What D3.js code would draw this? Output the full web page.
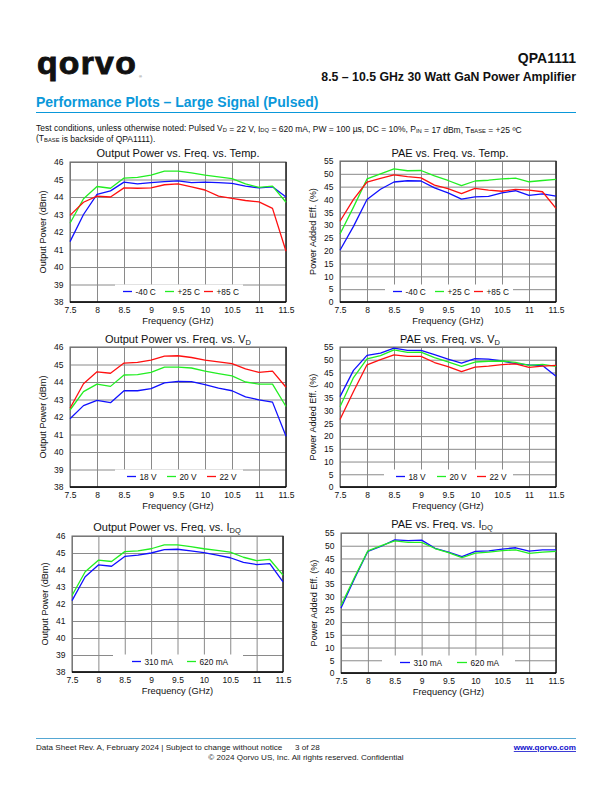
<!DOCTYPE html>
<html><head><meta charset="utf-8">
<script src="https://cdn.jsdelivr.net/npm/d3@7/dist/d3.min.js"></script>
<style>
body{margin:0;background:#fff}
svg{display:block;font-family:"Liberation Sans",Arial,sans-serif}
</style>
</head><body>
<svg id="c" width="612" height="792"></svg>
<script>
// ---------- data ----------
const freqs = [7.5,7.75,8,8.25,8.5,8.75,9,9.25,9.5,9.75,10,10.25,10.5,10.75,11,11.25,11.5];
const xTicks = [7.5,8,8.5,9,9.5,10,10.5,11,11.5];
const poutTicks = [38,39,40,41,42,43,44,45,46];
const paeTicks = [0,5,10,15,20,25,30,35,40,45,50,55];

const poutTempM40 = [41.45,43.0,44.15,44.35,44.85,44.75,44.82,44.88,44.92,44.82,44.85,44.82,44.78,44.62,44.52,44.58,44.0];
const poutTemp25  = [42.5,43.9,44.6,44.5,45.08,45.12,45.25,45.48,45.48,45.38,45.25,45.15,45.05,44.75,44.55,44.62,43.7];
const poutTemp85  = [42.95,43.7,44.05,44.0,44.52,44.5,44.52,44.7,44.75,44.58,44.4,44.05,43.92,43.8,43.72,43.35,40.9];

const paeTempM40 = [20.2,29.5,40.0,44.0,46.8,47.3,47.2,44.5,42.6,40.1,41.0,41.2,42.6,43.4,41.6,42.2,41.3];
const paeTemp25  = [26.5,37.0,48.0,50.0,51.9,51.2,51.3,49.2,47.4,45.4,47.2,47.5,48.0,48.3,46.9,47.4,47.8];
const paeTemp85  = [31.5,40.0,46.8,48.2,49.6,48.9,48.4,45.6,44.2,42.3,44.3,43.6,43.2,43.9,43.6,43.0,36.5];

const poutVd18 = [41.9,42.65,42.95,42.82,43.5,43.5,43.62,43.95,44.03,44.02,43.85,43.65,43.5,43.15,42.98,42.85,40.9];
const poutVd20 = [42.4,43.45,43.88,43.75,44.4,44.42,44.55,44.85,44.85,44.8,44.62,44.48,44.35,44.0,43.88,43.88,42.6];
const poutVd22 = [42.5,43.9,44.58,44.5,45.08,45.12,45.25,45.48,45.5,45.4,45.25,45.15,45.05,44.75,44.55,44.62,43.7];

const paeVd18 = [35.5,45.8,51.7,52.6,54.6,53.7,53.7,52.0,50.2,48.7,50.4,50.2,49.5,48.5,48.0,47.7,43.5];
const paeVd20 = [31.5,43.0,50.3,51.6,53.9,52.9,53.0,50.8,49.2,47.4,49.1,49.4,49.5,49.0,47.8,48.2,47.4];
const paeVd22 = [26.5,37.5,48.0,50.0,51.9,51.3,51.3,48.9,47.3,45.3,47.1,47.5,48.1,48.4,47.0,47.5,47.8];

const poutIdq310 = [42.2,43.6,44.3,44.22,44.8,44.88,45.0,45.2,45.22,45.12,45.02,44.88,44.72,44.45,44.32,44.38,43.3];
const poutIdq620 = [42.5,43.9,44.58,44.5,45.08,45.12,45.25,45.48,45.48,45.38,45.25,45.15,45.05,44.75,44.55,44.62,43.7];

const paeIdq310 = [25.5,37.0,47.8,49.8,52.3,52.0,52.2,49.0,47.5,45.7,47.8,48.0,48.7,49.2,47.9,48.4,48.4];
const paeIdq620 = [26.5,37.5,48.0,50.0,51.9,51.3,51.3,48.9,47.3,45.3,47.1,47.5,48.1,48.4,47.0,47.5,47.8];

const tempLabels = ["-40 C","+25 C","+85 C"];
const vdLabels = ["18 V","20 V","22 V"];
const idqLabels = ["310 mA","620 mA"];

// ---------- styling ----------
const BLUE = "#1010ff", GREEN = "#22ee22", RED = "#ff1010";
const svg = d3.select("#c");

function rich(sel, parts, subSize, subDy){
  parts.forEach(p=>{
    if (typeof p === "string") sel.append("tspan").text(p);
    else sel.append("tspan").attr("font-size", subSize).attr("dy", subDy).text(p.sub)
           .call(()=>{ sel.append("tspan").attr("dy", -subDy).text(""); });
  });
}

// ---------- header ----------
svg.append("text").attr("x",37).attr("y",74).attr("font-size",31).attr("font-weight","bold")
  .attr("letter-spacing",1.2).attr("fill","#111").attr("stroke","#111").attr("stroke-width",0.9)
  .attr("textLength",100).attr("lengthAdjust","spacingAndGlyphs").text("qorvo");
svg.append("text").attr("x",139).attr("y",78).attr("font-size",4).attr("fill","#555").text("®");
svg.append("text").attr("x",576).attr("y",63).attr("text-anchor","end").attr("font-size",14)
  .attr("font-weight","bold").attr("fill","#111").text("QPA1111");
svg.append("text").attr("x",576).attr("y",81).attr("text-anchor","end").attr("font-size",12.3)
  .attr("font-weight","bold").attr("fill","#111").text("8.5 – 10.5 GHz 30 Watt GaN Power Amplifier");
svg.append("text").attr("x",36).attr("y",107).attr("font-size",14).attr("font-weight","bold")
  .attr("fill","#0a98da").text("Performance Plots – Large Signal (Pulsed)");
svg.append("line").attr("x1",36).attr("x2",576).attr("y1",112.5).attr("y2",112.5)
  .attr("stroke","#0a98da").attr("stroke-width",1.2);

const tc1 = svg.append("text").attr("x",36).attr("y",131).attr("font-size",8.5).attr("fill","#111");
rich(tc1, ["Test conditions, unless otherwise noted: Pulsed V",{sub:"D"}," = 22 V, I",{sub:"DQ"},
  " = 620 mA, PW = 100 µs, DC = 10%, P",{sub:"IN"}," = 17 dBm, T",{sub:"BASE"}," = +25 ºC"], 5.8, 0.5);
const tc2 = svg.append("text").attr("x",36).attr("y",141).attr("font-size",8.5).attr("fill","#111");
rich(tc2, ["(T",{sub:"BASE"}," is backside of QPA1111)."], 5.8, 0.5);

// ---------- charts ----------
const charts = [
  {x0:70,x1:286,y0:162,y1:302,dom:[38,46],ticks:poutTicks,ylab:"Output Power (dBm)",
   title:["Output Power vs. Freq. vs. Temp."],tx:178,ty:157,
   series:[poutTempM40,poutTemp25,poutTemp85],colors:[BLUE,GREEN,RED],labels:tempLabels,
   leg:{x0:115,x1:243,items:[123,165,204],len:9}},
  {x0:340,x1:556,y0:161,y1:302,dom:[0,55],ticks:paeTicks,ylab:"Power Added Eff. (%)",
   title:["PAE vs. Freq. vs. Temp."],tx:450,ty:157,
   series:[paeTempM40,paeTemp25,paeTemp85],colors:[BLUE,GREEN,RED],labels:tempLabels,
   leg:{x0:385,x1:513,items:[393,435,474],len:9}},
  {x0:70,x1:286,y0:347,y1:487,dom:[38,46],ticks:poutTicks,ylab:"Output Power (dBm)",
   title:["Output Power vs. Freq. vs. V",{sub:"D"}],tx:178,ty:343,
   series:[poutVd18,poutVd20,poutVd22],colors:[BLUE,GREEN,RED],labels:vdLabels,
   leg:{x0:115,x1:243,items:[127,167,207],len:9}},
  {x0:340,x1:556,y0:347,y1:487,dom:[0,55],ticks:paeTicks,ylab:"Power Added Eff. (%)",
   title:["PAE vs. Freq. vs. V",{sub:"D"}],tx:450,ty:343,
   series:[paeVd18,paeVd20,paeVd22],colors:[BLUE,GREEN,RED],labels:vdLabels,
   leg:{x0:384,x1:513,items:[396,437,477],len:9}},
  {x0:72,x1:283,y0:536,y1:672,dom:[38,46],ticks:poutTicks,ylab:"Output Power (dBm)",
   title:["Output Power vs. Freq. vs. I",{sub:"DQ"}],tx:167,ty:531,
   series:[poutIdq310,poutIdq620],colors:[BLUE,GREEN],labels:idqLabels,
   leg:{x0:113,x1:243,items:[132,187],len:9}},
  {x0:341,x1:556,y0:533,y1:673,dom:[0,55],ticks:paeTicks,ylab:"Power Added Eff. (%)",
   title:["PAE vs. Freq. vs. I",{sub:"DQ"}],tx:442,ty:528,
   series:[paeIdq310,paeIdq620],colors:[BLUE,GREEN],labels:idqLabels,
   leg:{x0:382,x1:515,items:[400,457],len:10}}
];

charts.forEach(c=>{
  const g = svg.append("g");
  const x = d3.scaleLinear().domain([7.5,11.5]).range([c.x0,c.x1]);
  const y = d3.scaleLinear().domain(c.dom).range([c.y1,c.y0]);
  const w = c.x1-c.x0, h = c.y1-c.y0;

  const gx = g.append("g").attr("transform",`translate(0,${c.y1})`)
    .call(d3.axisBottom(x).tickValues(xTicks).tickSize(-h).tickPadding(4.5).tickFormat(d=>String(d)));
  const gy = g.append("g").attr("transform",`translate(${c.x0},0)`)
    .call(d3.axisLeft(y).tickValues(c.ticks).tickSize(-w).tickPadding(6.5).tickFormat(d=>String(d)));
  [gx,gy].forEach(a=>{
    a.select(".domain").remove();
    a.selectAll(".tick line").attr("stroke","#8a8a8a").attr("stroke-width",1);
    a.selectAll(".tick text").attr("font-size",8.5).attr("fill","#111")
      .attr("font-family","Liberation Sans, Arial, sans-serif");
  });

  // legend background
  g.append("rect").attr("x",c.leg.x0).attr("y",c.y1-17.5).attr("width",c.leg.x1-c.leg.x0)
    .attr("height",17.5).attr("fill","#fff");

  // frame
  g.append("rect").attr("x",c.x0).attr("y",c.y0).attr("width",w).attr("height",h)
    .attr("fill","none").attr("stroke","#666").attr("stroke-width",1);
  g.append("line").attr("x1",c.x1).attr("x2",c.x1).attr("y1",c.y0).attr("y2",c.y1)
    .attr("stroke","#222").attr("stroke-width",1.3);
  g.append("line").attr("x1",c.x0).attr("x2",c.x1).attr("y1",c.y1).attr("y2",c.y1)
    .attr("stroke","#000").attr("stroke-width",1.6);

  // lines
  const line = d3.line().x((d,i)=>x(freqs[i])).y(d=>y(d));
  c.series.forEach((s,i)=>{
    g.append("path").datum(s).attr("d",line).attr("fill","none")
      .attr("stroke",c.colors[i]).attr("stroke-width",1.3).attr("stroke-linejoin","round");
  });

  // legend
  const ly = c.y1-10.5;
  c.labels.forEach((lab,i)=>{
    const lx = c.leg.items[i];
    g.append("line").attr("x1",lx).attr("x2",lx+c.leg.len).attr("y1",ly).attr("y2",ly)
      .attr("stroke",c.colors[i]).attr("stroke-width",1.3);
    g.append("text").attr("x",lx+c.leg.len+3.5).attr("y",ly+3).attr("font-size",8.3)
      .attr("fill","#111").text(lab);
  });

  // title
  const t = g.append("text").attr("x",c.tx).attr("y",c.ty).attr("text-anchor","middle")
    .attr("font-size",11).attr("fill","#111");
  rich(t, c.title, 7.5, 2);

  // axis titles
  g.append("text").attr("x",(c.x0+c.x1)/2).attr("y",c.y1+21.5).attr("text-anchor","middle")
    .attr("font-size",9.3).attr("fill","#111").text("Frequency (GHz)");
  g.append("text").attr("transform",`translate(${c.x0-24},${(c.y0+c.y1)/2}) rotate(-90)`)
    .attr("text-anchor","middle").attr("font-size",9.1).attr("fill","#111").text(c.ylab);
});

// ---------- footer ----------
svg.append("defs").append("clipPath").attr("id","fclip")
  .append("rect").attr("x",0).attr("y",740).attr("width",284).attr("height",14);
svg.append("line").attr("x1",36).attr("x2",576).attr("y1",738.5).attr("y2",738.5)
  .attr("stroke","#2a90c8").attr("stroke-width",0.8);
svg.append("text").attr("x",36).attr("y",750).attr("font-size",8.1).attr("fill","#222")
  .attr("clip-path","url(#fclip)")
  .text("Data Sheet Rev. A, February 2024 | Subject to change without notice");
svg.append("text").attr("x",295).attr("y",750).attr("font-size",8.1).attr("fill","#222").text("3 of 28");
svg.append("text").attr("x",576).attr("y",750).attr("text-anchor","end").attr("font-size",8.1)
  .attr("font-weight","bold").attr("fill","#1010cc").attr("text-decoration","underline").text("www.qorvo.com");
svg.append("text").attr("x",306).attr("y",760).attr("text-anchor","middle").attr("font-size",8.1)
  .attr("fill","#222").text("© 2024 Qorvo US, Inc. All rights reserved. Confidential");
</script>
</body></html>
